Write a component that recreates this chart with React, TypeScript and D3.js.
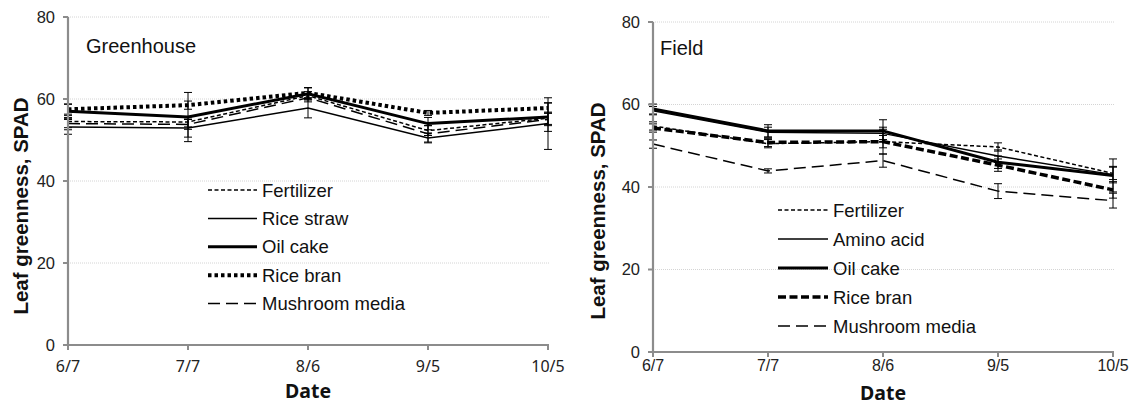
import React from "react";
import * as d3 from "d3";

const dates = ["6/7", "7/7", "8/6", "9/5", "10/5"];
const yTicks = [0, 20, 40, 60, 80];

// Greenhouse
const ghNames = ["Fertilizer", "Rice straw", "Oil cake", "Rice bran", "Mushroom media"];
const ghFertilizer = [54.5, 54.4, 60.8, 52.3, 55.3];
const ghRiceStraw = [53.2, 52.9, 57.8, 50.5, 54.0];
const ghOilCake = [57.0, 55.6, 61.3, 54.0, 55.6];
const ghRiceBran = [57.5, 58.5, 61.5, 56.6, 57.8];
const ghMushroom = [54.0, 53.8, 60.3, 51.5, 55.0];
const ghFertilizerErr = [1.5, 1.2, 1.0, 1.2, 1.5];
const ghRiceStrawErr = [1.8, 2.2, 2.4, 1.2, 6.3];
const ghOilCakeErr = [1.8, 6.0, 1.5, 1.5, 3.5];
const ghRiceBranErr = [1.2, 1.0, 1.2, 0.6, 1.2];
const ghMushroomErr = [1.5, 1.2, 1.0, 2.0, 1.5];

// Field
const fNames = ["Fertilizer", "Amino acid", "Oil cake", "Rice bran", "Mushroom media"];
const fFertilizer = [54.8, 50.5, 51.0, 49.7, 43.3];
const fAminoAcid = [58.5, 53.3, 53.0, 47.5, 43.0];
const fOilCake = [58.9, 53.6, 53.6, 46.0, 42.8];
const fRiceBran = [54.3, 50.8, 51.0, 45.3, 39.3];
const fMushroom = [50.4, 43.9, 46.4, 39.0, 36.7];
const fFertilizerErr = [1.0, 1.0, 1.5, 1.0, 1.5];
const fAminoAcidErr = [1.0, 1.2, 1.5, 1.5, 2.0];
const fOilCakeErr = [1.2, 1.5, 2.7, 1.5, 4.0];
const fRiceBranErr = [1.0, 1.0, 3.0, 1.5, 2.0];
const fMushroomErr = [1.0, 0.5, 1.6, 1.8, 1.8];

type Style = { w: number; dash: string };

const ghStyles: Style[] = [
  { w: 1.5, dash: "4,2.5" },
  { w: 1.5, dash: "" },
  { w: 3, dash: "" },
  { w: 4, dash: "3.5,3" },
  { w: 1.5, dash: "12,6" },
];
const fStyles: Style[] = [
  { w: 1.5, dash: "4,2.5" },
  { w: 1.5, dash: "" },
  { w: 3, dash: "" },
  { w: 3.5, dash: "8,3.5" },
  { w: 1.5, dash: "12,6" },
];

type PanelProps = {
  title: string;
  names: string[];
  values: number[][];
  errs: number[][];
  styles: Style[];
  x0: number;
  x1: number;
  yTop: number;
  yBot: number;
  titleX: number;
  titleY: number;
  legX: number;
  legY: number;
  legW: number;
  legStep: number;
  yTitleX: number;
  yTitleY: number;
  xLabFont: string;
  xLabY: number;
  dateY: number;
};

function Panel(p: PanelProps) {
  const x = d3.scalePoint<string>().domain(dates).range([p.x0, p.x1]);
  const y = d3.scaleLinear().domain([0, 80]).range([p.yBot, p.yTop]);
  const line = d3
    .line<number>()
    .x((_, i) => x(dates[i]) as number)
    .y((d) => y(d));
  const axisColor = "#8c8c8c";
  return (
    <g>
      {yTicks.filter((t) => t > 0).map((t) => (
        <line key={"g" + t} x1={p.x0} x2={p.x1 + 2} y1={y(t)} y2={y(t)} stroke="#d4d4d4" strokeWidth={1} strokeDasharray="1,1" />
      ))}
      {p.values.map((vals, si) => (
        <g key={"s" + si}>
          <path d={line(vals) || ""} fill="none" stroke="#000" strokeWidth={p.styles[si].w} strokeDasharray={p.styles[si].dash} />
          {vals.map((v, i) => {
            const cx = x(dates[i]) as number;
            const e = p.errs[si][i];
            return (
              <g key={i} stroke="#000" strokeWidth={1}>
                <line x1={cx} x2={cx} y1={y(v + e)} y2={y(v - e)} />
                <line x1={cx - 4} x2={cx + 4} y1={y(v + e)} y2={y(v + e)} />
                <line x1={cx - 4} x2={cx + 4} y1={y(v - e)} y2={y(v - e)} />
              </g>
            );
          })}
        </g>
      ))}
      <line x1={p.x0} x2={p.x0} y1={p.yTop} y2={p.yBot} stroke={axisColor} strokeWidth={2.2} />
      <line x1={p.x0 - 1} x2={p.x1 + 1} y1={p.yBot} y2={p.yBot} stroke={axisColor} strokeWidth={2.2} />
      {yTicks.map((t) => (
        <g key={"yt" + t}>
          <line x1={p.x0 - 5} x2={p.x0} y1={y(t)} y2={y(t)} stroke={axisColor} strokeWidth={2} />
          <text x={p.x0 - 13} y={y(t)} dy="0.35em" textAnchor="end" fontFamily="Liberation Sans, Arial, sans-serif" fontSize={16.5} fill="#222">
            {t}
          </text>
        </g>
      ))}
      {dates.map((d) => (
        <g key={"xt" + d}>
          <line x1={x(d) as number} x2={x(d) as number} y1={p.yBot} y2={p.yBot + 5} stroke={axisColor} strokeWidth={2} />
          <text x={x(d) as number} y={p.xLabY} textAnchor="middle" fontFamily={p.xLabFont} fontSize={16} fill="#222">
            {d}
          </text>
        </g>
      ))}
      <text x={(p.x0 + p.x1) / 2} y={p.dateY} textAnchor="middle" fontFamily="Noto Sans, sans-serif" fontWeight="bold" fontSize={19.5} fill="#111">
        Date
      </text>
      <text transform={`translate(${p.yTitleX},${p.yTitleY}) rotate(-90)`} textAnchor="middle" dy="0.35em" fontFamily="Liberation Sans, Arial, sans-serif" fontWeight="bold" fontSize={20.5} fill="#111">
        Leaf greenness, SPAD
      </text>
      <text x={p.titleX} y={p.titleY} fontFamily="Liberation Sans, Arial, sans-serif" fontSize={20} fill="#111">
        {p.title}
      </text>
      {p.names.map((n, i) => {
        const ly = p.legY + i * p.legStep;
        return (
          <g key={"l" + i}>
            <line x1={p.legX} x2={p.legX + p.legW} y1={ly} y2={ly} stroke="#000" strokeWidth={p.styles[i].w} strokeDasharray={p.styles[i].dash} />
            <text x={p.legX + p.legW + 5} y={ly} dy="0.36em" fontFamily="Liberation Sans, Arial, sans-serif" fontSize={18.5} fill="#111">
              {n}
            </text>
          </g>
        );
      })}
    </g>
  );
}

export default function App() {
  return (
    <div style={{ position: "absolute", left: 0, top: 0 }}>
      <svg width={1136} height={407} style={{ display: "block", background: "#fff" }}>
        <Panel
          title="Greenhouse"
          names={ghNames}
          values={[ghFertilizer, ghRiceStraw, ghOilCake, ghRiceBran, ghMushroom]}
          errs={[ghFertilizerErr, ghRiceStrawErr, ghOilCakeErr, ghRiceBranErr, ghMushroomErr]}
          styles={ghStyles}
          x0={68}
          x1={548}
          yTop={17}
          yBot={345}
          titleX={86}
          titleY={53}
          legX={208}
          legY={190}
          legW={49}
          legStep={28.4}
          yTitleX={21}
          yTitleY={206}
          xLabFont="Noto Sans, sans-serif"
          xLabY={372}
          dateY={398}
        />
        <Panel
          title="Field"
          names={fNames}
          values={[fFertilizer, fAminoAcid, fOilCake, fRiceBran, fMushroom]}
          errs={[fFertilizerErr, fAminoAcidErr, fOilCakeErr, fRiceBranErr, fMushroomErr]}
          styles={fStyles}
          x0={653}
          x1={1113}
          yTop={22}
          yBot={352}
          titleX={660}
          titleY={55}
          legX={778}
          legY={210}
          legW={50}
          legStep={29}
          yTitleX={598}
          yTitleY={211}
          xLabFont="Liberation Sans, Arial, sans-serif"
          xLabY={371}
          dateY={400}
        />
      </svg>
    </div>
  );
}
